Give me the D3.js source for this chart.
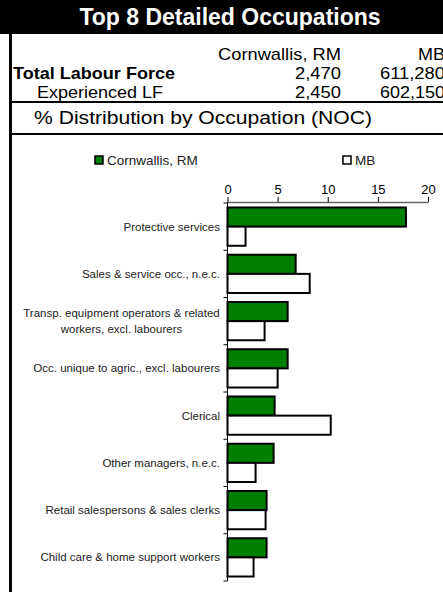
<!DOCTYPE html>
<html>
<head>
<script src="https://cdn.jsdelivr.net/npm/d3@7"></script>
<style>
  body { margin: 0; background: #fff; }
  svg { display: block; font-family: "Liberation Sans", Arial, sans-serif; }
</style>
</head>
<body>
<svg width="443" height="592"></svg>
<script>
// data
var categories = [
  'Protective services',
  'Sales & service occ., n.e.c.',
  'Transp. equipment operators & related|workers, excl. labourers',
  'Occ. unique to agric., excl. labourers',
  'Clerical',
  'Other managers, n.e.c.',
  'Retail salespersons & sales clerks',
  'Child care & home support workers'
];
var seriesNames = ['Cornwallis, RM', 'MB'];
var cornwallis = [17.8, 6.8, 6.0, 6.0, 4.7, 4.6, 3.9, 3.9];
var mb = [1.8, 8.2, 3.7, 5.0, 10.3, 2.8, 3.8, 2.6];
var xTicks = [0, 5, 10, 15, 20];
var tableRows = [
  { label: 'Total Labour Force', bold: true, a: '2,470', b: '611,280' },
  { label: 'Experienced LF', bold: false, a: '2,450', b: '602,150' }
];

var svg = d3.select('svg');

// stretch a text to the width it has in the picture
function fit(sel, w) {
  return sel.attr('textLength', w).attr('lengthAdjust', 'spacingAndGlyphs');
}

// title band
svg.append('rect').attr('x', 0).attr('y', 0).attr('width', 443).attr('height', 34).attr('fill', '#000');
svg.append('text').attr('x', 230).attr('y', 25).attr('text-anchor', 'middle')
  .attr('fill', '#fff').attr('font-weight', 'bold').attr('font-size', 23)
  .text('Top 8 Detailed Occupations');

// frame lines
svg.append('rect').attr('x', 9).attr('y', 34).attr('width', 3).attr('height', 558).attr('fill', '#000');
svg.append('rect').attr('x', 9).attr('y', 101).attr('width', 434).attr('height', 2).attr('fill', '#000');
svg.append('rect').attr('x', 9).attr('y', 133).attr('width', 434).attr('height', 2).attr('fill', '#000');

// table
fit(svg.append('text').attr('x', 341).attr('y', 60).attr('text-anchor', 'end').attr('font-size', 17).text(seriesNames[0]), 123);
fit(svg.append('text').attr('x', 445).attr('y', 60).attr('text-anchor', 'end').attr('font-size', 17).text(seriesNames[1]), 27);

tableRows.forEach(function (r, i) {
  var y = 79 + i * 19;
  fit(svg.append('text').attr('x', r.bold ? 13 : 37).attr('y', y).attr('font-size', 17)
    .attr('font-weight', r.bold ? 'bold' : 'normal').text(r.label), r.bold ? 162 : 126);
  fit(svg.append('text').attr('x', 341).attr('y', y).attr('text-anchor', 'end').attr('font-size', 17).text(r.a), 46);
  fit(svg.append('text').attr('x', 445).attr('y', y).attr('text-anchor', 'end').attr('font-size', 17).text(r.b), 65);
});

fit(svg.append('text').attr('x', 203).attr('y', 124).attr('text-anchor', 'middle').attr('font-size', 17.5)
  .text('% Distribution by Occupation (NOC)'), 338);

// chart
var x = d3.scaleLinear().domain([0, 20]).range([227.5, 428]);
var y = d3.scaleBand().domain(d3.range(categories.length)).range([203, 581]).paddingInner(0.19).paddingOuter(0.095);
var ys = d3.scaleBand().domain([0, 1]).range([0, y.bandwidth()]);

var xAxis = svg.append('g').attr('transform', 'translate(0,202)')
  .call(d3.axisTop(x).tickValues(xTicks).tickSize(5).tickSizeOuter(0));
xAxis.selectAll('text').attr('font-size', 13).attr('fill', '#000').attr('font-family', '"Liberation Sans", Arial, sans-serif');
xAxis.selectAll('line').attr('stroke', '#000');
xAxis.select('.domain').attr('stroke', '#666').attr('stroke-width', 1.5);

var groups = svg.append('g').selectAll('g').data(categories).enter().append('g')
  .attr('transform', function (d, i) { return 'translate(0,' + y(i) + ')'; });

var vals = [cornwallis, mb];
[0, 1].forEach(function (s) {
  groups.append('rect')
    .attr('x', x(0))
    .attr('y', ys(s))
    .attr('width', function (d, i) { return x(vals[s][i]) - x(0); })
    .attr('height', ys.bandwidth())
    .attr('fill', s === 0 ? '#008000' : '#fff')
    .attr('stroke', '#000')
    .attr('stroke-width', 2);
});

// category axis
var step = (581 - 203) / categories.length;
svg.append('line').attr('x1', x(0)).attr('x2', x(0)).attr('y1', 202).attr('y2', 581)
  .attr('stroke', '#000').attr('stroke-width', 1);
svg.append('g').selectAll('line').data(d3.range(categories.length + 1)).enter().append('line')
  .attr('x1', x(0) - 4).attr('x2', x(0))
  .attr('y1', function (d) { return 203 + d * step; })
  .attr('y2', function (d) { return 203 + d * step; })
  .attr('stroke', '#000');

svg.append('g').selectAll('text').data(categories).enter().append('text')
  .attr('font-size', 11.5).attr('fill', '#222')
  .each(function (d, i) {
    var lines = d.split('|');
    var cy = 203 + (i + 0.5) * step;
    var t = d3.select(this);
    if (lines.length === 1) {
      t.attr('x', 220).attr('y', cy + 4).attr('text-anchor', 'end').text(d);
    } else {
      t.attr('text-anchor', 'middle');
      lines.forEach(function (l, k) {
        t.append('tspan').attr('x', 121.5).attr('y', cy - 4 + k * 16).text(l);
      });
    }
  });

// legend
var legend = svg.append('g');
[[95, 0], [343, 1]].forEach(function (p) {
  legend.append('rect').attr('x', p[0]).attr('y', 156).attr('width', 8).attr('height', 8)
    .attr('fill', p[1] === 0 ? '#008000' : '#fff').attr('stroke', '#000').attr('stroke-width', 1.5);
  legend.append('text').attr('x', p[0] + 12).attr('y', 165).attr('font-size', 13.5).attr('fill', '#222')
    .text(seriesNames[p[1]]);
});
</script>
</body>
</html>
